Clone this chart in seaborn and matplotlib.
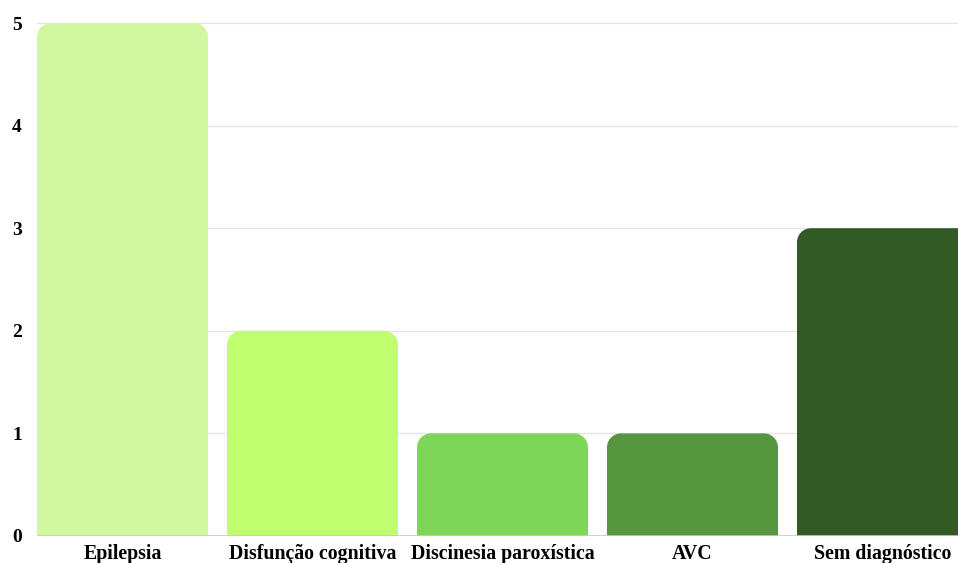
import matplotlib
matplotlib.use("Agg")
import matplotlib.pyplot as plt
from matplotlib.path import Path
from matplotlib.patches import PathPatch
import seaborn as sns
import pandas as pd

categories = ["Epilepsia", "Disfunção cognitiva", "Discinesia paroxística", "AVC", "Sem diagnóstico"]
counts = [5, 2, 1, 1, 3]
bar_colors = ["#d1f8a0", "#c0fe6f", "#7ed658", "#56963f", "#325a25"]
yticks = [0, 1, 2, 3, 4, 5]

sns.set_theme(style="white")
plt.rcParams["font.family"] = ["Liberation Serif", "DejaVu Serif"]

W, H, DPI = 958, 563, 100
fig = plt.figure(figsize=(W / DPI, H / DPI), dpi=DPI)
# the plotting area runs past the right edge of the canvas
left_px, right_px, base_px, top_px = 37, 985, 536, 2.5
ax = fig.add_axes([left_px / W, 1 - base_px / H,
                   (right_px - left_px) / W, (base_px - top_px) / H])

df = pd.DataFrame({"cat": categories, "n": counts})
slot_px = 190
bar_w = 171 / slot_px
sns.barplot(data=df, x="cat", y="n", hue="cat", palette=bar_colors,
            width=bar_w, legend=False, ax=ax, saturation=1)

ymax = 5.2
xlo = -bar_w / 2
xhi = xlo + (right_px - left_px) / slot_px
ax.set_xlim(xlo, xhi)
ax.set_ylim(0, ymax)

# replace square bars with bars that have rounded top corners
px_per_x = (right_px - left_px) / (xhi - xlo)
px_per_y = (base_px - top_px) / ymax
r_px = 14
rx, ry = r_px / px_per_x, r_px / px_per_y
k = 0.5523
last = len(ax.patches) - 1
for i, p in enumerate(list(ax.patches)):
    x0, y0 = p.get_x(), p.get_y()
    w, h = p.get_width(), p.get_height()
    color = p.get_facecolor()
    p.remove()
    x1, y1 = x0 + w, y0 + h
    if i == last:
        # the final bar continues beyond the canvas edge
        x1 = x0 + 2 * w
    verts = [
        (x0, y0), (x0, y1 - ry),
        (x0, y1 - ry + k * ry), (x0 + rx - k * rx, y1), (x0 + rx, y1),
        (x1 - rx, y1),
        (x1 - rx + k * rx, y1), (x1, y1 - ry + k * ry), (x1, y1 - ry),
        (x1, y0), (x0, y0),
    ]
    codes = [Path.MOVETO, Path.LINETO,
             Path.CURVE4, Path.CURVE4, Path.CURVE4,
             Path.LINETO,
             Path.CURVE4, Path.CURVE4, Path.CURVE4,
             Path.LINETO, Path.CLOSEPOLY]
    ax.add_patch(PathPatch(Path(verts, codes), facecolor=color,
                           edgecolor="none", zorder=2))

ax.set_yticks(yticks)
ax.set_yticklabels([str(t) for t in yticks])
for t in yticks[1:]:
    ax.axhline(t, color="#e3e3e3", lw=0.9, zorder=1)
ax.axhline(0, color="#c8c8c8", lw=1.2, zorder=3)

for s in ax.spines.values():
    s.set_visible(False)
ax.tick_params(axis="both", length=0, labelsize=14, colors="black")
ax.tick_params(axis="x", labelsize=14.3)
ax.tick_params(axis="y", pad=11)
ax.tick_params(axis="x", pad=6)
for lab in ax.get_xticklabels() + ax.get_yticklabels():
    lab.set_fontweight("bold")
ax.set_xlabel("")
ax.set_ylabel("")

fig.savefig("out.png", dpi=DPI, facecolor="white")
